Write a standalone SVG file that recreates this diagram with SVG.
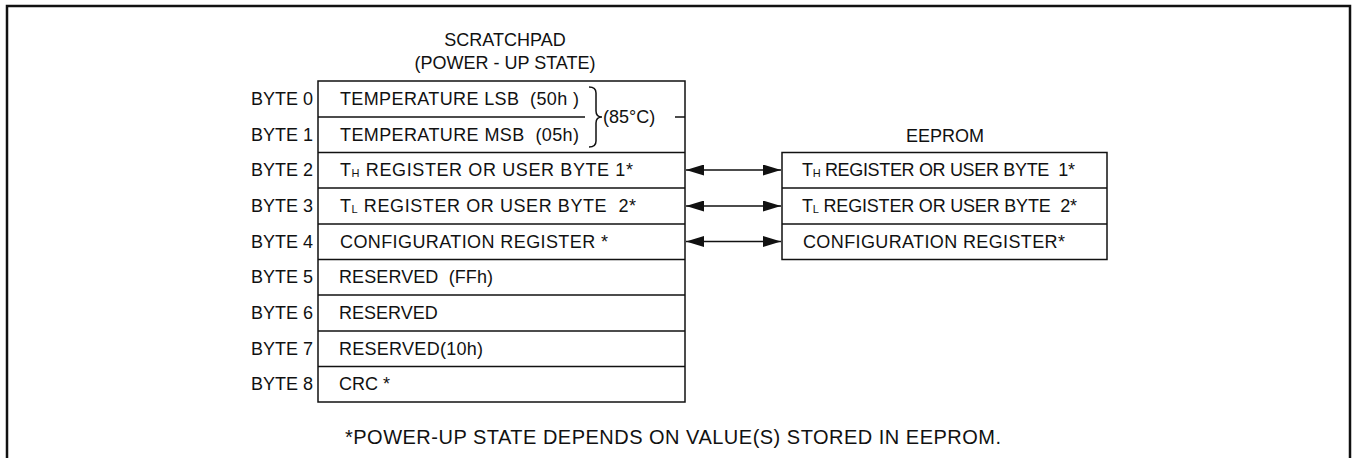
<svg xmlns="http://www.w3.org/2000/svg" width="1353" height="458" viewBox="0 0 1353 458">
<style>
text{font-family:"Liberation Sans",Arial,sans-serif;font-size:18px;fill:#111;white-space:pre}
.lbl{text-anchor:end}
.ctr{text-anchor:middle}
.sub{font-size:11px}
.note{font-size:20px}
.box{fill:#fff;stroke:#111;stroke-width:1.5}
.ln{stroke:#111;stroke-width:1.5;fill:none}
</style>
<defs>
<marker id="ah" viewBox="0 0 18 11" refX="18" refY="5.5" markerWidth="18" markerHeight="11" markerUnits="userSpaceOnUse" orient="auto-start-reverse">
<path d="M0,0 L18,5.5 L0,11 Z" fill="#111"/>
</marker>
</defs>
<rect width="1353" height="458" fill="#fff"/>
<path d="M7,460 V6 H1350 V460" fill="none" stroke="#111" stroke-width="2.5"/>

<g id="scratchpad-title">
<text class="ctr" x="505" y="46">SCRATCHPAD</text>
<text class="ctr" x="505" y="69">(POWER - UP STATE)</text>
</g>

<g id="scratchpad">
<rect class="box" x="318" y="81" width="367" height="321"/>
<line class="ln" x1="318" y1="117" x2="585" y2="117"/>
<line class="ln" x1="318" y1="152.5" x2="685" y2="152.5"/>
<line class="ln" x1="318" y1="188" x2="685" y2="188"/>
<line class="ln" x1="318" y1="224" x2="685" y2="224"/>
<line class="ln" x1="318" y1="259.5" x2="685" y2="259.5"/>
<line class="ln" x1="318" y1="295" x2="685" y2="295"/>
<line class="ln" x1="318" y1="331" x2="685" y2="331"/>
<line class="ln" x1="318" y1="366.5" x2="685" y2="366.5"/>
<line class="ln" x1="675" y1="117" x2="685" y2="117"/>
<path class="ln" d="M589,87 Q596,87 596,93 V111 Q596,117 602,117 Q596,117 596,123 V141 Q596,147 589,147"/>
<text x="603" y="123">(85°C)</text>
<text class="lbl" x="313" y="105">BYTE 0</text>
<text class="lbl" x="313" y="141">BYTE 1</text>
<text class="lbl" x="313" y="176">BYTE 2</text>
<text class="lbl" x="313" y="212">BYTE 3</text>
<text class="lbl" x="313" y="248">BYTE 4</text>
<text class="lbl" x="313" y="283">BYTE 5</text>
<text class="lbl" x="313" y="319">BYTE 6</text>
<text class="lbl" x="313" y="355">BYTE 7</text>
<text class="lbl" x="313" y="390">BYTE 8</text>
<text x="340" y="105" textLength="239">TEMPERATURE LSB  (50h )</text>
<text x="340" y="141" textLength="239">TEMPERATURE MSB  (05h)</text>
<text x="340" y="176" textLength="293">T<tspan class="sub" dy="1">H</tspan><tspan dy="-1"> REGISTER OR USER BYTE 1*</tspan></text>
<text x="340" y="212" textLength="296">T<tspan class="sub" dy="1">L</tspan><tspan dy="-1"> REGISTER OR USER BYTE  2*</tspan></text>
<text x="340" y="248" textLength="268">CONFIGURATION REGISTER *</text>
<text x="339" y="283" textLength="154">RESERVED  (FFh)</text>
<text x="339" y="319">RESERVED</text>
<text x="339" y="355" textLength="144">RESERVED(10h)</text>
<text x="339" y="390">CRC *</text>
</g>

<g id="eeprom">
<text class="ctr" x="945" y="142">EEPROM</text>
<rect class="box" x="782" y="152.5" width="325" height="107"/>
<line class="ln" x1="782" y1="188" x2="1107" y2="188"/>
<line class="ln" x1="782" y1="224" x2="1107" y2="224"/>
<text x="802" y="176" textLength="273">T<tspan class="sub" dy="1">H</tspan><tspan dy="-1"> REGISTER OR USER BYTE  1*</tspan></text>
<text x="802" y="212" textLength="275">T<tspan class="sub" dy="1">L</tspan><tspan dy="-1"> REGISTER OR USER BYTE  2*</tspan></text>
<text x="803" y="248" textLength="262">CONFIGURATION REGISTER*</text>
</g>

<g id="connectors">
<line class="ln" x1="686" y1="170" x2="781" y2="170" marker-start="url(#ah)" marker-end="url(#ah)"/>
<line class="ln" x1="686" y1="206" x2="781" y2="206" marker-start="url(#ah)" marker-end="url(#ah)"/>
<line class="ln" x1="686" y1="241.5" x2="781" y2="241.5" marker-start="url(#ah)" marker-end="url(#ah)"/>
</g>

<g id="footnote">
<text class="note" x="345" y="444" textLength="656">*POWER-UP STATE DEPENDS ON VALUE(S) STORED IN EEPROM.</text>
</g>
</svg>
